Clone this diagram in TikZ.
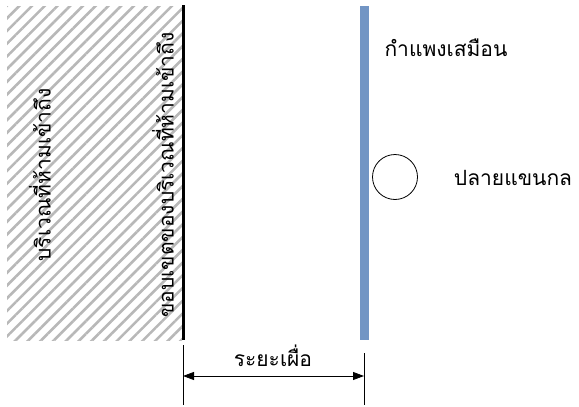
\documentclass[tikz,border=0pt]{standalone}
\usepackage{fontspec}
\newfontfamily\thaifont[Script=Thai]{Loma}
\usetikzlibrary{patterns.meta,arrows.meta}
\definecolor{wallblue}{RGB}{114,149,196}
\begin{document}
\begin{tikzpicture}[x=1pt,y=-1pt,
  lbl/.style={font=\thaifont\fontsize{21}{24}\selectfont, inner sep=0pt},
  dimline/.style={line width=0.8pt},
  dimarrow/.style={line width=0.8pt, {Triangle[length=11pt,width=8pt]}-{Triangle[length=11pt,width=8pt]}}]
\useasboundingbox (0,0) rectangle (579,407);
% hatched forbidden zone
\fill[pattern={Lines[angle=45,distance=9pt,line width=2.6pt]}, pattern color=black!28] (7,6) rectangle (182,340);
% boundary line
\draw[line width=3pt] (183,5) -- (183,340);
% virtual wall
\fill[wallblue] (360,6) rectangle (369,340);
% labels
\node[lbl, rotate=90] (zone) at (40,175) {บริเวณที่ห้ามเข้าถึง};
\node[lbl, rotate=90] (bound) at (163,175) {ขอบเขตของบริเวณที่ห้ามเข้าถึง};
\node[lbl] (wall) at (446,48) {กำแพงเสมือน};
\node[draw, circle, minimum size=45pt, line width=0.8pt, inner sep=0pt] (tip) at (395,177) {};
\node[lbl] (tiplbl) at (513,178) {ปลายแขนกล};
% dimension
\coordinate (l1) at (183,345);
\coordinate (l2) at (183,405);
\coordinate (r1) at (364,353);
\coordinate (r2) at (364,405);
\draw[dimline] (l1) -- (l2);
\draw[dimline] (r1) -- (r2);
\coordinate (a1) at (183,376);
\coordinate (a2) at (364,376);
\draw[dimarrow] (a1) -- (a2);
\node[lbl] (margin) at (273,356) {ระยะเผื่อ};
\end{tikzpicture}
\end{document}
